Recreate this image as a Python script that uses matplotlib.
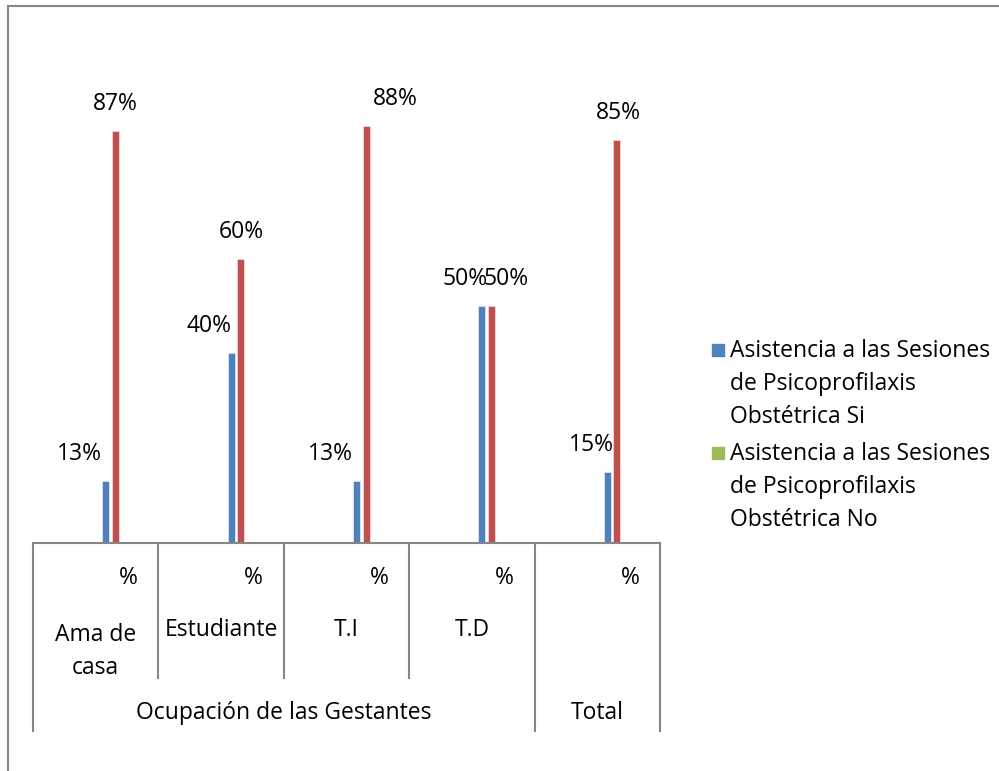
import matplotlib
matplotlib.use("Agg")
import matplotlib.pyplot as plt
import matplotlib.transforms as mtransforms
from matplotlib.patches import Rectangle
from matplotlib.lines import Line2D
import numpy as np

plt.rcParams["font.family"] = ["Open Sans", "DejaVu Sans"]

# --- data ---
categories = ["Ama de\ncasa", "Estudiante", "T.I", "T.D", ""]
unit_labels = ["%", "%", "%", "%", "%"]
groups = ["Ocupación de las Gestantes", "Total"]
group_spans = [(0, 4), (4, 5)]
si_values = [0.13, 0.40, 0.13, 0.50, 0.15]
no_values = [0.87, 0.60, 0.88, 0.50, 0.85]
legend_labels = [
    "Asistencia a las Sesiones\nde Psicoprofilaxis\nObstétrica Si",
    "Asistencia a las Sesiones\nde Psicoprofilaxis\nObstétrica No",
]

BLUE = "#4F81BD"
RED = "#C0504D"
GREEN = "#9BBB59"
GRID = "#868686"
FS = 16.5

W, H = 999, 771
fig = plt.figure(figsize=(W / 100, H / 100), dpi=100)


def fy(py):
    # pixel row (from top) -> figure fraction
    return (H - py) / H


# outer chart border (only top/left visible in the reference)
fig.add_artist(Rectangle((8 / W, -0.1), 1.2, fy(6) + 0.1, transform=fig.transFigure,
                         fill=False, edgecolor=GRID, linewidth=1.5))

ax = fig.add_axes([33 / W, fy(543), (660 - 33) / W, (543 - 69) / H])
ax.set_xlim(0, len(categories))
ax.set_ylim(0, 1)

x = np.arange(len(categories)) + 0.5
bw = 0.056
xb = x + 0.08
xr = x + 0.157
ax.bar(xb, si_values, width=bw, color=BLUE, edgecolor="#DCE4EE", linewidth=0.6)
ax.bar(xr, no_values, width=bw, color=RED, edgecolor="#EED9D8", linewidth=0.6)

# label offsets (pixels) as placed in the reference
si_dx = [-26, -22, -26, -17, -16]
no_dx = [0, 1, 29, 14, 1]
for xs, vals, dxs in [(xb, si_values, si_dx), (xr, no_values, no_dx)]:
    for xi, v, dx in zip(xs, vals, dxs):
        ax.annotate(f"{v:.0%}", (xi, v), xytext=(dx * 0.72, 19.5), textcoords="offset points",
                    ha="center", va="center", fontsize=FS)

for s in ["top", "left", "right"]:
    ax.spines[s].set_visible(False)
ax.spines["bottom"].set_color(GRID)
ax.spines["bottom"].set_linewidth(1.5)
ax.set_xticks([])
ax.set_yticks([])

# multi-level category axis
tr = mtransforms.blended_transform_factory(ax.transData, ax.transAxes)
inner_bottom = -0.285
outer_bottom = -0.397
outer_edges = [s for s, e in group_spans] + [group_spans[-1][1]]
for b in range(len(categories) + 1):
    yb = outer_bottom if b in outer_edges else inner_bottom
    ax.add_line(Line2D([b, b], [0, yb], transform=tr, color=GRID, linewidth=1.5, clip_on=False))

for xi, u in zip(x, unit_labels):
    ax.text(xi + 0.26, -0.074, u, transform=tr, ha="center", va="center", fontsize=FS)
for xi, c in zip(x, categories):
    if "\n" in c:
        ax.text(xi, -0.228, c, transform=tr, ha="center", va="center", fontsize=FS, linespacing=1.5)
    else:
        ax.text(xi, -0.184, c, transform=tr, ha="center", va="center", fontsize=FS)
for g, (s, e) in zip(groups, group_spans):
    ax.text((s + e) / 2, -0.359, g, transform=tr, ha="center", va="center", fontsize=FS)

# legend drawn by hand (reference shows green for the second entry)
legend_colors = [BLUE, GREEN]
first_baselines = [357, 460]
line_step = 33
for col, lab, base in zip(legend_colors, legend_labels, first_baselines):
    fig.add_artist(Rectangle((712 / W, fy(base - 1)), 12 / W, 12 / H,
                             transform=fig.transFigure, color=col))
    for k, line in enumerate(lab.split("\n")):
        fig.text(730 / W, fy(base + k * line_step), line, ha="left", va="baseline", fontsize=FS)

fig.savefig("out.png", dpi=100)
